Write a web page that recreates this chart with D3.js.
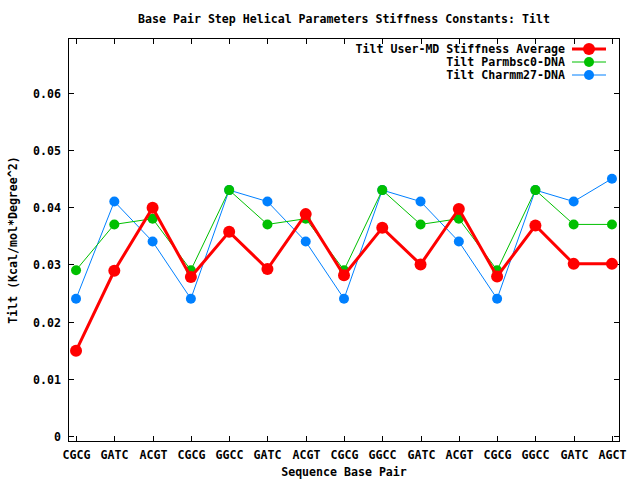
<!DOCTYPE html>
<html><head><meta charset="utf-8">
<script src="https://d3js.org/d3.v7.min.js"></script>
<style>body{margin:0;background:#fff}svg{display:block}text{font-family:"DejaVu Sans Mono",monospace;font-weight:bold;font-size:11.6px;fill:#000}</style>
</head><body><svg id="c" width="640" height="480"></svg>
<script>
const categories = ["CGCG","GATC","ACGT","CGCG","GGCC","GATC","ACGT","CGCG","GGCC","GATC","ACGT","CGCG","GGCC","GATC","AGCT"];
const userAvg = [0.0149,0.0289,0.0399,0.0278,0.0357,0.0292,0.0388,0.0281,0.0364,0.0300,0.0397,0.0279,0.0368,0.0301,0.0301];
const parmbsc0 = [0.029,0.037,0.038,0.029,0.043,0.037,0.038,0.029,0.043,0.037,0.038,0.029,0.043,0.037,0.037];
const charmm27 = [0.024,0.041,0.034,0.024,0.043,0.041,0.034,0.024,0.043,0.041,0.034,0.024,0.043,0.041,0.045];
const yTicks = [0,0.01,0.02,0.03,0.04,0.05,0.06];
const seriesNames = ["Tilt User-MD Stiffness Average","Tilt Parmbsc0-DNA","Tilt Charmm27-DNA"];

const svg = d3.select("#c");
const L=68,R=620,T=38,B=442;
const x = d3.scaleLinear().domain([-0.21,14.21]).range([L,R]);
const y = d3.scaleLinear().domain([-0.00105,0.0696]).range([B,T]);

svg.append("text").attr("x",344).attr("y",23).attr("text-anchor","middle").text("Base Pair Step Helical Parameters Stiffness Constants: Tilt");

const g = svg.append("g").attr("shape-rendering","crispEdges");
g.append("rect").attr("x",L+0.5).attr("y",T+0.5).attr("width",R-L-1).attr("height",B-T-1).attr("fill","none").attr("stroke","#000");
const tl=6;
yTicks.forEach(v=>{
  const yy=Math.round(y(v))+0.5;
  g.append("line").attr("x1",L).attr("x2",L+tl).attr("y1",yy).attr("y2",yy).attr("stroke","#000");
  g.append("line").attr("x1",R-tl).attr("x2",R).attr("y1",yy).attr("y2",yy).attr("stroke","#000");
  svg.append("text").attr("x",61).attr("y",yy+4).attr("text-anchor","end").text(v===0?"0":d3.format(".2f")(v));
});
categories.forEach((c,i)=>{
  const xx=Math.round(x(i))+0.5;
  g.append("line").attr("x1",xx).attr("x2",xx).attr("y1",B).attr("y2",B-tl).attr("stroke","#000");
  g.append("line").attr("x1",xx).attr("x2",xx).attr("y1",T).attr("y2",T+tl).attr("stroke","#000");
  svg.append("text").attr("x",xx).attr("y",459).attr("text-anchor","middle").text(c);
});
svg.append("text").attr("x",344).attr("y",476).attr("text-anchor","middle").text("Sequence Base Pair");
svg.append("text").attr("transform","translate(17,240) rotate(-90)").attr("text-anchor","middle").text("Tilt (Kcal/mol*Degree^2)");

const series=[
 {name:seriesNames[0],vals:userAvg,color:"#ff0000",w:3,r:6},
 {name:seriesNames[1],vals:parmbsc0,color:"#00c000",w:1,r:5},
 {name:seriesNames[2],vals:charmm27,color:"#0080ff",w:1,r:5}
];
const line=d3.line().x((d,i)=>x(i)).y(d=>y(d));
[2,1,0].forEach(k=>{
  const s=series[k];
  svg.append("path").datum(s.vals).attr("d",line).attr("fill","none").attr("stroke",s.color).attr("stroke-width",s.w);
  svg.selectAll(null).data(s.vals).enter().append("circle").attr("cx",(d,i)=>x(i)).attr("cy",d=>y(d)).attr("r",s.r).attr("fill",s.color);
});
const ly=[49,62,75];
series.forEach((s,k)=>{
  svg.append("text").attr("x",565).attr("y",ly[k]+4).attr("text-anchor","end").text(s.name);
  svg.append("line").attr("x1",572).attr("x2",606).attr("y1",ly[k]).attr("y2",ly[k]).attr("stroke",s.color).attr("stroke-width",s.w);
  svg.append("circle").attr("cx",589).attr("cy",ly[k]).attr("r",s.r).attr("fill",s.color);
});
</script></body></html>
